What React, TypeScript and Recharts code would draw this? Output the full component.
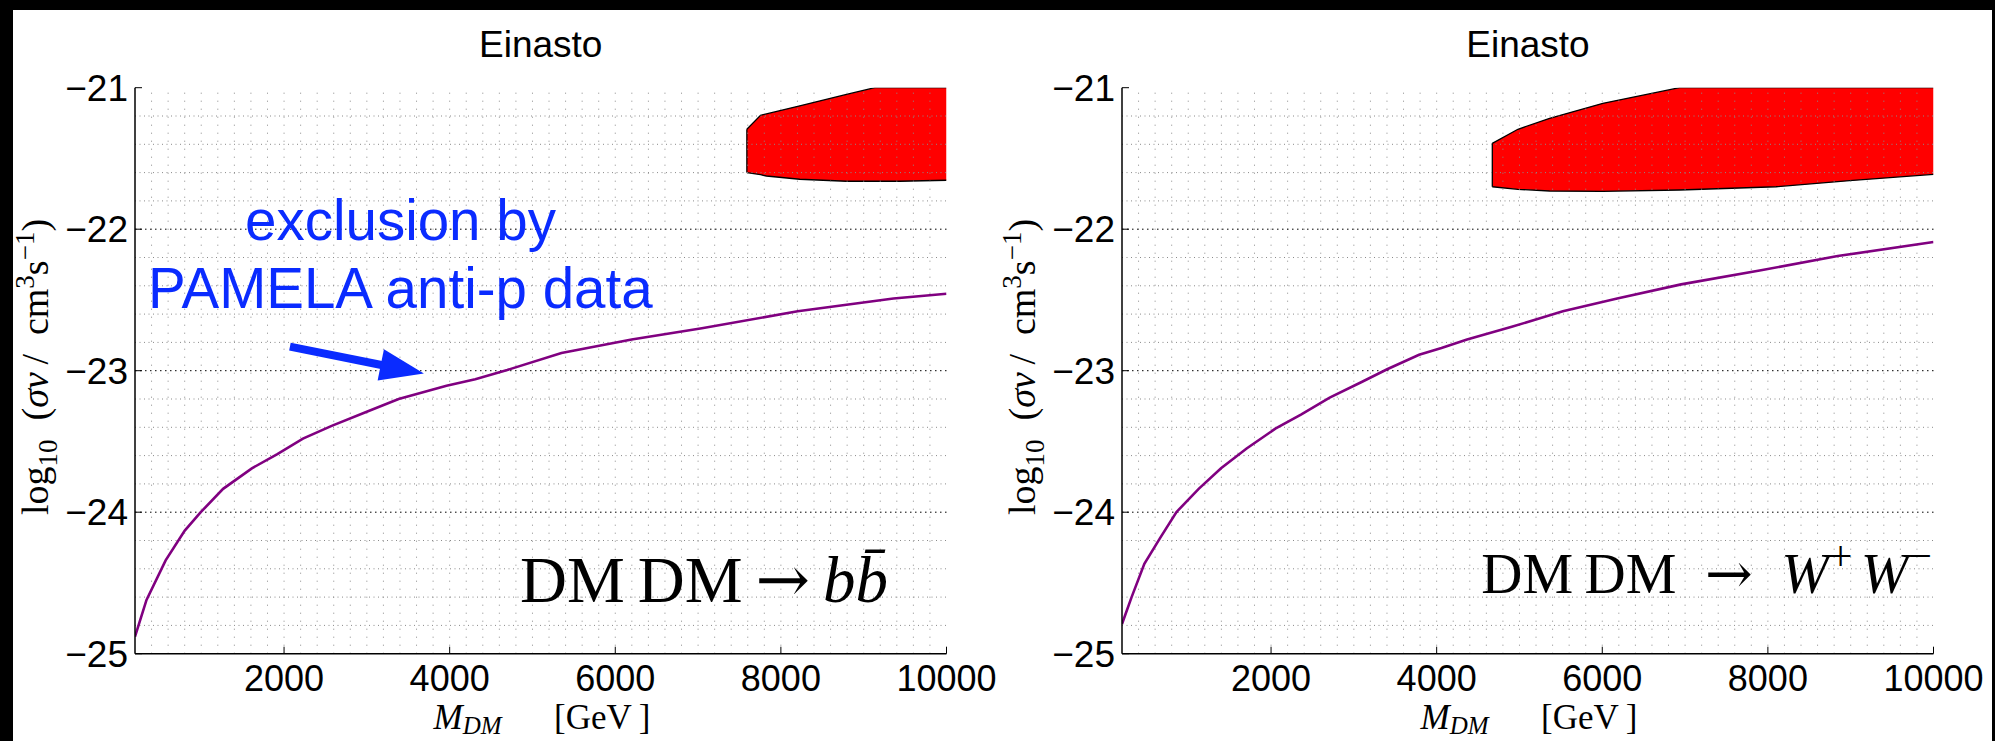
import React from 'react';
import {
  ComposedChart,
  Line,
  Area,
  XAxis,
  YAxis,
  ReferenceLine,
} from 'recharts';

// axis ticks
const X_TICKS = [2000, 4000, 6000, 8000, 10000];
const Y_TICKS = [-25, -24, -23, -22, -21];
const X_DOMAIN = [200, 10000];
const Y_DOMAIN = [-25, -21];
// dotted grid: minor every 200 GeV / 0.2 dex, major at the inner y ticks
const MINOR_X = Array.from({ length: 48 }, (_, i) => 400 + i * 200);
const MINOR_Y = [
  -24.8, -24.6, -24.4, -24.2, -23.8, -23.6, -23.4, -23.2,
  -22.8, -22.6, -22.4, -22.2, -21.8, -21.6, -21.4, -21.2,
];
const MAJOR_Y = [-24, -23, -22];

// PAMELA anti-p exclusion curve, DM DM -> b bbar
const BB_MASS = [200, 339, 570, 801, 994, 1264, 1611, 1919, 2228, 2575, 2999, 3384, 3962, 4309, 4695, 5350, 6198, 7046, 8203, 9359, 10000];
const BB_SIGMA = [-24.88, -24.62, -24.34, -24.13, -24.0, -23.835, -23.69, -23.59, -23.48, -23.39, -23.29, -23.2, -23.106, -23.06, -22.995, -22.875, -22.78, -22.7, -22.58, -22.49, -22.456];

// PAMELA anti-p exclusion curve, DM DM -> W+ W-
const WW_MASS = [200, 316, 470, 663, 856, 1126, 1396, 1705, 2052, 2361, 2708, 3094, 3402, 3788, 4058, 4367, 4907, 5524, 6180, 6952, 7917, 8843, 10000];
const WW_SIGMA = [-24.79, -24.6, -24.365, -24.18, -24.0, -23.835, -23.69, -23.55, -23.41, -23.31, -23.19, -23.08, -22.99, -22.887, -22.84, -22.78, -22.69, -22.58, -22.49, -22.39, -22.29, -22.19, -22.09];

// red favoured regions (lower / upper edge)
const BB_REGION_MASS = [7589, 7754, 7825, 8228, 8792, 9134, 9435, 10000];
const BB_REGION_LOW = [-21.6, -21.615, -21.624, -21.647, -21.661, -21.661, -21.661, -21.654];
const BB_REGION_HIGH = [-21.294, -21.195, -21.185, -21.128, -21.048, -21.0, -21.0, -21.0];

const WW_REGION_MASS = [4672, 4981, 5364, 6007, 6933, 8100, 8986, 10000];
const WW_REGION_LOW = [-21.7, -21.718, -21.73, -21.732, -21.723, -21.7, -21.657, -21.612];
const WW_REGION_HIGH = [-21.393, -21.294, -21.216, -21.11, -21.0, -21.0, -21.0, -21.0];

// blue annotation arrow (mass, log sigma v)
const ARROW_FROM = [2071, -22.83];
const ARROW_TO = [3689, -23.02];

const SANS = 'Liberation Sans, Arial, Helvetica, sans-serif';
const SERIF = 'Liberation Serif, DejaVu Serif, Times New Roman, serif';
const BLUE = '#0a2bff';

const fmtTick = (v: number) => (v < 0 ? `\u2212${-v}` : `${v}`);

const CHART_W = 1000;
const CHART_H = 741;
const MARGIN = { top: 87.7, left: 65, right: 53.5, bottom: 47.3 };

function ArrowShape(props: any) {
  const { x1, y1, x2, y2 } = props;
  if ([x1, y1, x2, y2].some((v) => typeof v !== 'number' || isNaN(v))) return null;
  const dx = x2 - x1;
  const dy = y2 - y1;
  const len = Math.sqrt(dx * dx + dy * dy);
  const ux = dx / len;
  const uy = dy / len;
  const headLen = 44;
  const headHalf = 16;
  const bx = x2 - ux * headLen;
  const by = y2 - uy * headLen;
  const pts = [
    [x2, y2],
    [bx - uy * headHalf, by + ux * headHalf],
    [bx + uy * headHalf, by - ux * headHalf],
  ]
    .map((p) => p.join(','))
    .join(' ');
  return (
    <g>
      <line x1={x1} y1={y1} x2={bx + ux * 2} y2={by + uy * 2} stroke={BLUE} strokeWidth={8} />
      <polygon points={pts} fill={BLUE} />
    </g>
  );
}

interface PanelProps {
  mass: number[];
  sigma: number[];
  regionMass: number[];
  regionLow: number[];
  regionHigh: number[];
  showArrow?: boolean;
}

function Panel({ mass, sigma, regionMass, regionLow, regionHigh, showArrow }: PanelProps) {
  const curve = mass.map((m, i) => ({ m, v: sigma[i] }));
  const region = regionMass.map((m, i) => ({ m, range: [regionLow[i], regionHigh[i]] }));

  return (
    <ComposedChart width={CHART_W} height={CHART_H} margin={MARGIN} data={curve}>
      <XAxis
        dataKey="m"
        type="number"
        domain={X_DOMAIN}
        ticks={X_TICKS}
        interval={0}
        allowDataOverflow
        height={40}
        tickSize={-7}
        tickMargin={19}
        tick={{ fontFamily: SANS, fontSize: 36, fill: '#000' }}
        axisLine={{ stroke: '#000', strokeWidth: 1.5 }}
        tickLine={{ stroke: '#000', strokeWidth: 1 }}
      />
      <XAxis
        xAxisId="top"
        orientation="top"
        type="number"
        domain={X_DOMAIN}
        ticks={X_TICKS}
        interval={0}
        allowDataOverflow
        height={0}
        tickSize={-7}
        tick={false}
        axisLine={{ stroke: '#000', strokeWidth: 1.5 }}
        tickLine={{ stroke: '#000', strokeWidth: 1 }}
      />
      <YAxis
        type="number"
        domain={Y_DOMAIN}
        ticks={Y_TICKS}
        interval={0}
        allowDataOverflow
        width={70}
        tickSize={-7}
        tickMargin={14}
        tickFormatter={fmtTick}
        tick={{ fontFamily: SANS, fontSize: 37, fill: '#000' }}
        axisLine={{ stroke: '#000', strokeWidth: 1.5 }}
        tickLine={{ stroke: '#000', strokeWidth: 1 }}
      />
      <YAxis
        yAxisId="right"
        orientation="right"
        type="number"
        domain={Y_DOMAIN}
        ticks={Y_TICKS}
        interval={0}
        allowDataOverflow
        width={0}
        tickSize={-7}
        tick={false}
        axisLine={{ stroke: '#000', strokeWidth: 1.5 }}
        tickLine={{ stroke: '#000', strokeWidth: 1 }}
      />

      <Area
        data={region}
        dataKey="range"
        type="linear"
        fill="#ff0000"
        fillOpacity={1}
        stroke="#000"
        strokeWidth={1.3}
        isAnimationActive={false}
        dot={false}
        activeDot={false}
        zIndex={-20}
      />
      <ReferenceLine
        segment={[
          { x: regionMass[0], y: regionLow[0] },
          { x: regionMass[0], y: regionHigh[0] },
        ]}
        stroke="#000"
        strokeWidth={1.3}
      />

      {MINOR_X.map((v) => (
        <ReferenceLine key={`gx${v}`} x={v} stroke="#8a8a8a" strokeWidth={1} strokeDasharray="1 7" />
      ))}
      {MINOR_Y.map((v) => (
        <ReferenceLine key={`gy${v}`} y={v} stroke="#8a8a8a" strokeWidth={1} strokeDasharray="1 3.5" />
      ))}
      {MAJOR_Y.map((v) => (
        <ReferenceLine key={`my${v}`} y={v} stroke="#000" strokeWidth={1} strokeDasharray="1.5 3.5" />
      ))}

      <Line
        dataKey="v"
        type="linear"
        stroke="#800080"
        strokeWidth={2.6}
        dot={false}
        activeDot={false}
        isAnimationActive={false}
      />

      {showArrow && (
        <ReferenceLine
          segment={[
            { x: ARROW_FROM[0], y: ARROW_FROM[1] },
            { x: ARROW_TO[0], y: ARROW_TO[1] },
          ]}
          shape={ArrowShape}
        />
      )}
    </ComposedChart>
  );
}

function YLabel({ x }: { x: number }) {
  return (
    <text transform={`translate(${x},367) rotate(-90)`} textAnchor="middle" fontFamily={SERIF} fontSize={38} fill="#000">
      log
      <tspan dy={9} fontSize={27}>10</tspan>
      <tspan dy={-9}>{'\u2002('}</tspan>
      <tspan fontStyle="italic">σv</tspan>
      <tspan>{'\u2009/\u2002cm'}</tspan>
      <tspan dy={-14} fontSize={27}>3</tspan>
      <tspan dy={14}>s</tspan>
      <tspan dy={-14} fontSize={27}>−1</tspan>
      <tspan dy={14}>)</tspan>
    </text>
  );
}

function XLabel({ x }: { x: number }) {
  return (
    <text x={x} y={729} textAnchor="middle" fontFamily={SERIF} fontSize={35} fill="#000">
      <tspan fontStyle="italic">M</tspan>
      <tspan dy={5} fontSize={25} fontStyle="italic">DM</tspan>
      <tspan dy={-5}>{'\u2003\u2002[GeV\u2009]'}</tspan>
    </text>
  );
}

export default function App() {
  return (
    <div style={{ position: 'absolute', left: 0, top: 0, width: 1995, height: 741, background: '#fff', overflow: 'hidden' }}>
      <div style={{ position: 'absolute', left: 0, top: 0 }}>
        <Panel
          mass={BB_MASS}
          sigma={BB_SIGMA}
          regionMass={BB_REGION_MASS}
          regionLow={BB_REGION_LOW}
          regionHigh={BB_REGION_HIGH}
          showArrow
        />
      </div>
      <div style={{ position: 'absolute', left: 987.3, top: 0 }}>
        <Panel
          mass={WW_MASS}
          sigma={WW_SIGMA}
          regionMass={WW_REGION_MASS}
          regionLow={WW_REGION_LOW}
          regionHigh={WW_REGION_HIGH}
        />
      </div>

      <svg width={1995} height={741} style={{ position: 'absolute', left: 0, top: 0, pointerEvents: 'none' }}>
        <text x={540.7} y={56.5} textAnchor="middle" fontFamily={SANS} fontSize={37} fill="#000">Einasto</text>
        <text x={1528} y={56.5} textAnchor="middle" fontFamily={SANS} fontSize={37} fill="#000">Einasto</text>

        <text x={245} y={240} fontFamily={SANS} fontSize={56.5} fill={BLUE}>exclusion by</text>
        <text x={148} y={308} fontFamily={SANS} fontSize={56.5} fill={BLUE}>PAMELA anti-p data</text>

        <YLabel x={48} />
        <YLabel x={1035} />
        <XLabel x={542} />
        <XLabel x={1529} />

        <text x={520} y={602} fontFamily={SERIF} fontSize={65} fill="#000">
          {'DM\u2009DM\u2009'}
          <tspan fontFamily="DejaVu Serif">→</tspan>
          {'\u2009'}
          <tspan fontStyle="italic">{'bb\u0304'}</tspan>
        </text>
        <text x={1932} y={593} textAnchor="end" fontFamily={SERIF} fontSize={57} fill="#000">
          {'DM\u2009DM\u2002'}
          <tspan fontFamily="DejaVu Serif">→</tspan>
          {'\u2002'}
          <tspan fontStyle="italic">W</tspan>
          <tspan dy={-23} fontSize={42}>{'+\u2009'}</tspan>
          <tspan dy={23} fontStyle="italic">W</tspan>
          <tspan dy={-23} fontSize={42}>−</tspan>
        </text>
      </svg>

      <div style={{ position: 'absolute', left: 0, top: 0, width: 1995, height: 9.5, background: '#000' }} />
      <div style={{ position: 'absolute', left: 0, top: 0, width: 13, height: 741, background: '#000' }} />
      <div style={{ position: 'absolute', left: 1992, top: 0, width: 3, height: 741, background: '#000' }} />
    </div>
  );
}
